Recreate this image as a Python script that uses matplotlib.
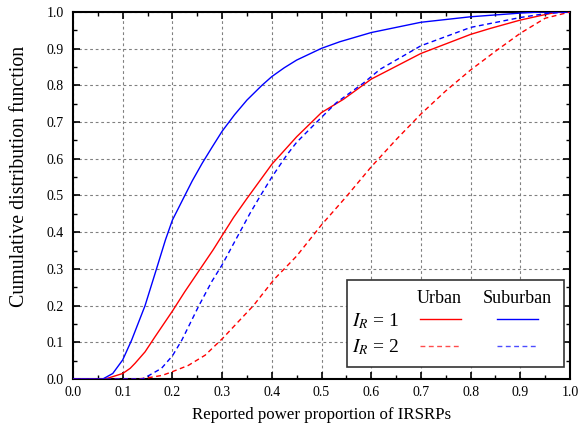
import matplotlib
matplotlib.use("Agg")
import matplotlib.pyplot as plt
from matplotlib.lines import Line2D
from matplotlib.patches import Rectangle
from matplotlib.ticker import MultipleLocator

plt.rcParams['font.family'] = ['Liberation Serif', 'DejaVu Serif']
plt.rcParams['mathtext.fontset'] = 'stix'

# CDF curves: reported power proportion vs cumulative probability
urban1_x = [0.0, 0.065, 0.10, 0.115, 0.125, 0.145, 0.165, 0.20, 0.225, 0.256, 0.282,
            0.302, 0.323, 0.349, 0.40, 0.45, 0.50, 0.544, 0.60, 0.70, 0.80, 0.839,
            0.90, 0.95, 0.975, 1.0]
urban1_y = [0.0, 0.0, 0.015, 0.029, 0.043, 0.074, 0.115, 0.185, 0.238, 0.30, 0.352,
            0.395, 0.44, 0.49, 0.585, 0.66, 0.726, 0.762, 0.817, 0.887, 0.939, 0.955,
            0.978, 0.993, 1.0, 1.0]

suburban1_x = [0.0, 0.06, 0.08, 0.10, 0.118, 0.145, 0.168, 0.186, 0.20, 0.222, 0.24,
               0.26, 0.28, 0.30, 0.325, 0.35, 0.38, 0.40, 0.425, 0.45, 0.50, 0.537,
               0.60, 0.70, 0.80, 0.90, 0.94, 1.0]
suburban1_y = [0.0, 0.0, 0.015, 0.052, 0.106, 0.20, 0.30, 0.379, 0.433, 0.492, 0.54,
               0.588, 0.632, 0.675, 0.72, 0.76, 0.80, 0.824, 0.848, 0.869, 0.901, 0.919,
               0.944, 0.972, 0.987, 0.997, 1.0, 1.0]

urban2_x = [0.0, 0.13, 0.15, 0.18, 0.20, 0.232, 0.266, 0.302, 0.363, 0.405, 0.45,
            0.50, 0.55, 0.60, 0.65, 0.70, 0.75, 0.80, 0.85, 0.90, 0.95, 1.0]
urban2_y = [0.0, 0.0, 0.003, 0.01, 0.02, 0.037, 0.065, 0.112, 0.20, 0.272, 0.335,
            0.42, 0.497, 0.578, 0.652, 0.722, 0.785, 0.842, 0.893, 0.942, 0.983, 1.0]

suburban2_x = [0.0, 0.14, 0.152, 0.178, 0.20, 0.219, 0.253, 0.279, 0.30, 0.33, 0.356,
               0.376, 0.40, 0.43, 0.45, 0.50, 0.53, 0.584, 0.618, 0.70, 0.80, 0.90,
               0.953, 1.0]
suburban2_y = [0.0, 0.0, 0.009, 0.029, 0.063, 0.106, 0.199, 0.265, 0.311, 0.386, 0.451,
               0.497, 0.55, 0.61, 0.645, 0.713, 0.753, 0.806, 0.844, 0.908, 0.958, 0.985,
               0.996, 1.0]

ticks = [0.0, 0.1, 0.2, 0.3, 0.4, 0.5, 0.6, 0.7, 0.8, 0.9, 1.0]
tick_labels = ['%.1f' % t for t in ticks]

fig = plt.figure(figsize=(5.79, 4.32), dpi=100)
ax = fig.add_axes([73 / 579, 1 - 379 / 432, 497 / 579, 367 / 432])

dash = (0, (3.5, 2.5))
ax.plot(urban1_x, urban1_y, color='#ff0000', lw=1.0, zorder=3)
ax.plot(suburban1_x, suburban1_y, color='#0000ff', lw=1.0, zorder=3)
ax.plot(urban2_x, urban2_y, color='#ff0000', lw=1.0, ls=dash, zorder=3)
ax.plot(suburban2_x, suburban2_y, color='#0000ff', lw=1.0, ls=dash, zorder=3)

ax.set_xlim(0, 1)
ax.set_ylim(0, 1)
ax.set_xticks(ticks)
ax.set_yticks(ticks)
ax.set_xticklabels(tick_labels)
ax.set_yticklabels(tick_labels)
ax.xaxis.set_minor_locator(MultipleLocator(0.05))
ax.yaxis.set_minor_locator(MultipleLocator(0.05))
ax.tick_params(which='both', direction='in', top=True, right=True, labelsize=10)
ax.tick_params(axis='x', which='major', pad=5)
ax.tick_params(axis='y', which='major', pad=6.5)
ax.tick_params(which='major', length=5, width=1.2)
ax.tick_params(which='minor', length=3, width=1.0)
for s in ax.spines.values():
    s.set_linewidth(1.5)

ax.grid(True, which='major', color='#808080', ls=(0, (2.5, 2.5)), lw=0.8)

ax.set_xlabel('Reported power proportion of IRSRPs', fontsize=12.2, labelpad=6)
ax.set_ylabel('Cumulative distribution function', fontsize=14.3)
ax.yaxis.set_label_coords(-0.088, 0.553)

# hand-built legend table: rows = interference level, columns = scenario
box = Rectangle((0.551, 0.034), 0.437, 0.236, transform=ax.transAxes,
                facecolor='white', edgecolor='#333333', lw=1.2, zorder=5)
ax.add_patch(box)
ax.text(0.737, 0.218, 'Urban', transform=ax.transAxes, ha='center', va='center',
        fontsize=13, zorder=6)
ax.text(0.893, 0.218, 'Suburban', transform=ax.transAxes, ha='center', va='center',
        fontsize=13, zorder=6)
ax.text(0.561, 0.158, r'$I_R$ = 1', transform=ax.transAxes, ha='left', va='center',
        fontsize=14, zorder=6)
ax.text(0.561, 0.086, r'$I_R$ = 2', transform=ax.transAxes, ha='left', va='center',
        fontsize=14, zorder=6)
for x0, color in [(0.698, '#ff0000'), (0.853, '#0000ff')]:
    ax.add_line(Line2D([x0, x0 + 0.083], [0.163, 0.163], transform=ax.transAxes,
                       color=color, lw=1.0, zorder=6))
    ax.add_line(Line2D([x0, x0 + 0.083], [0.09, 0.09], transform=ax.transAxes,
                       color=color, lw=1.0, ls=dash, zorder=6, alpha=0.7))

fig.savefig('out.png', dpi=100)
